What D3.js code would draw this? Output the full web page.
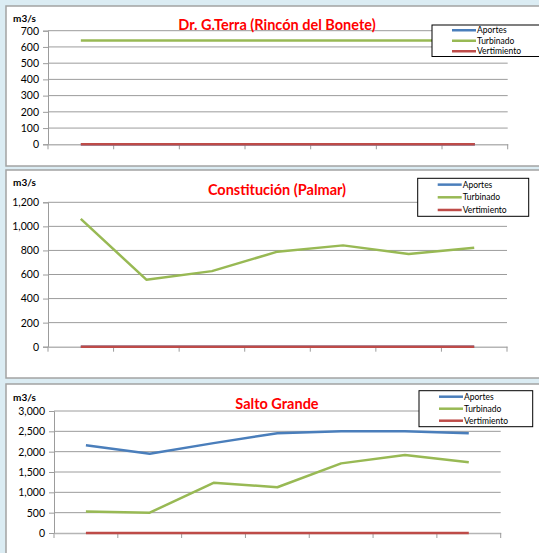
<!DOCTYPE html>
<html>
<head>
<meta charset="utf-8">
<script src="https://cdnjs.cloudflare.com/ajax/libs/d3/7.8.5/d3.min.js"></script>
<style>
  body { margin: 0; background: #dbecf3; }
  svg { display: block; font-family: Lato, "Open Sans", sans-serif; }
</style>
</head>
<body>
<div id="container"></div>
<script>
// 7 periods along x (no labels shown on the chart)
var categories = [1, 2, 3, 4, 5, 6, 7];
var seriesNames = ["Aportes", "Turbinado", "Vertimiento"];
var seriesColors = ["#4a7ebb", "#98b954", "#be4b48"];

// Dr. G.Terra (Rincón del Bonete)
var terraAportes = [0, 0, 0, 0, 0, 0, 0];
var terraTurbinado = [640, 640, 640, 640, 640, 640, 640];
var terraVertimiento = [0, 0, 0, 0, 0, 0, 0];
var terraTicks = [0, 100, 200, 300, 400, 500, 600, 700];

// Constitución (Palmar)
var palmarAportes = [0, 0, 0, 0, 0, 0, 0];
var palmarTurbinado = [1062, 557, 628, 790, 842, 770, 822];
var palmarVertimiento = [0, 0, 0, 0, 0, 0, 0];
var palmarTicks = [0, 200, 400, 600, 800, 1000, 1200];

// Salto Grande
var saltoAportes = [2155, 1950, 2210, 2455, 2505, 2505, 2455];
var saltoTurbinado = [530, 500, 1235, 1125, 1712, 1918, 1738];
var saltoVertimiento = [0, 0, 0, 0, 0, 0, 0];
var saltoTicks = [0, 500, 1000, 1500, 2000, 2500, 3000];

var W = 539, H = 553;
var svg = d3.select('#container').append('svg')
  .attr('width', W).attr('height', H);

var panels = [
  { title: "Dr. G.Terra (Rincón del Bonete)", series: [terraAportes, terraTurbinado, terraVertimiento],
    ticks: terraTicks, fmt: d3.format("d"),
    box: [6, 6, 540, 160], plot: [48, 507.7, 30.7, 144.3], unitY: 22, titleY: 30,
    legend: [432, 25, 110, 31.5] },
  { title: "Constitución (Palmar)", series: [palmarAportes, palmarTurbinado, palmarVertimiento],
    ticks: palmarTicks, fmt: d3.format(","),
    box: [6, 170, 540, 208], plot: [48, 507, 202.3, 346.7], unitY: 186, titleY: 194.5,
    legend: [417.7, 178.3, 111, 38] },
  { title: "Salto Grande", series: [saltoAportes, saltoTurbinado, saltoVertimiento],
    ticks: saltoTicks, fmt: d3.format(","),
    box: [6, 384, 540, 200], plot: [54, 500.7, 411, 533], unitY: 401, titleY: 408.5,
    legend: [419, 390.7, 113.7, 36] }
];

panels.forEach(function(p) {
  var g = svg.append('g');
  g.append('rect')
    .attr('x', p.box[0]).attr('y', p.box[1])
    .attr('width', p.box[2]).attr('height', p.box[3])
    .attr('fill', '#fff').attr('stroke', '#a3a3a3').attr('stroke-width', 1.5);

  var x = d3.scaleBand().domain(categories).range([p.plot[0], p.plot[1]]);
  var y = d3.scaleLinear().domain([0, d3.max(p.ticks)]).range([p.plot[3], p.plot[2]]);

  // gridlines
  g.append('g').selectAll('line').data(p.ticks.filter(function(t) { return t > 0; }))
    .join('line')
    .attr('x1', p.plot[0]).attr('x2', p.plot[1])
    .attr('y1', function(d) { return y(d); }).attr('y2', function(d) { return y(d); })
    .attr('stroke', '#9c9c9c').attr('stroke-width', 1);

  // y axis
  var ya = g.append('g').attr('transform', 'translate(' + p.plot[0] + ',0)')
    .call(d3.axisLeft(y).tickValues(p.ticks).tickFormat(p.fmt).tickSize(5).tickPadding(4));
  ya.select('.domain').attr('stroke', '#9c9c9c');
  ya.selectAll('.tick line').attr('stroke', '#9c9c9c');
  ya.selectAll('text').attr('font-size', 10.5).attr('fill', '#000').attr('font-family', 'Lato');

  // x axis, ticks at category boundaries, no labels
  var xa = g.append('g').attr('transform', 'translate(0,' + p.plot[3] + ')')
    .call(d3.axisBottom(x).tickSize(0).tickFormat(''));
  xa.select('.domain').attr('stroke', '#b5b5b5').attr('stroke-width', 1.5);
  xa.selectAll('.tick').remove();
  var bounds = categories.map(function(c) { return x(c); }).concat([p.plot[1]]);
  xa.selectAll('line.b').data(bounds).join('line').attr('class', 'b')
    .attr('x1', function(d) { return d; }).attr('x2', function(d) { return d; })
    .attr('y1', 0).attr('y2', 5).attr('stroke', '#9c9c9c');

  var line = d3.line()
    .x(function(d, i) { return x(categories[i]) + x.bandwidth() / 2; })
    .y(function(d) { return y(d); });

  p.series.forEach(function(s, i) {
    g.append('path').datum(s)
      .attr('d', line)
      .attr('fill', 'none')
      .attr('stroke', seriesColors[i])
      .attr('stroke-width', 2.5)
      .attr('stroke-linejoin', 'round');
  });

  g.append('text').attr('x', 13).attr('y', p.unitY)
    .attr('font-size', 10).attr('font-weight', 'bold').text('m3/s');

  g.append('text').attr('x', 277).attr('y', p.titleY)
    .attr('text-anchor', 'middle').attr('font-size', 14.5).attr('font-weight', 'bold')
    .attr('fill', '#ff0000').text(p.title);

  // legend
  var L = p.legend;
  var lg = g.append('g');
  lg.append('rect').attr('x', L[0]).attr('y', L[1]).attr('width', L[2]).attr('height', L[3])
    .attr('fill', '#fff').attr('stroke', '#000').attr('stroke-width', 1);
  var step = L[3] / 3;
  seriesNames.forEach(function(n, i) {
    var cy = L[1] + step * (i + 0.5);
    lg.append('line')
      .attr('x1', L[0] + 20).attr('x2', L[0] + 44)
      .attr('y1', cy).attr('y2', cy)
      .attr('stroke', seriesColors[i]).attr('stroke-width', 2.5);
    lg.append('text').attr('x', L[0] + 45).attr('y', cy + 3)
      .attr('font-size', 8.5).text(n);
  });
});
</script>
</body>
</html>
